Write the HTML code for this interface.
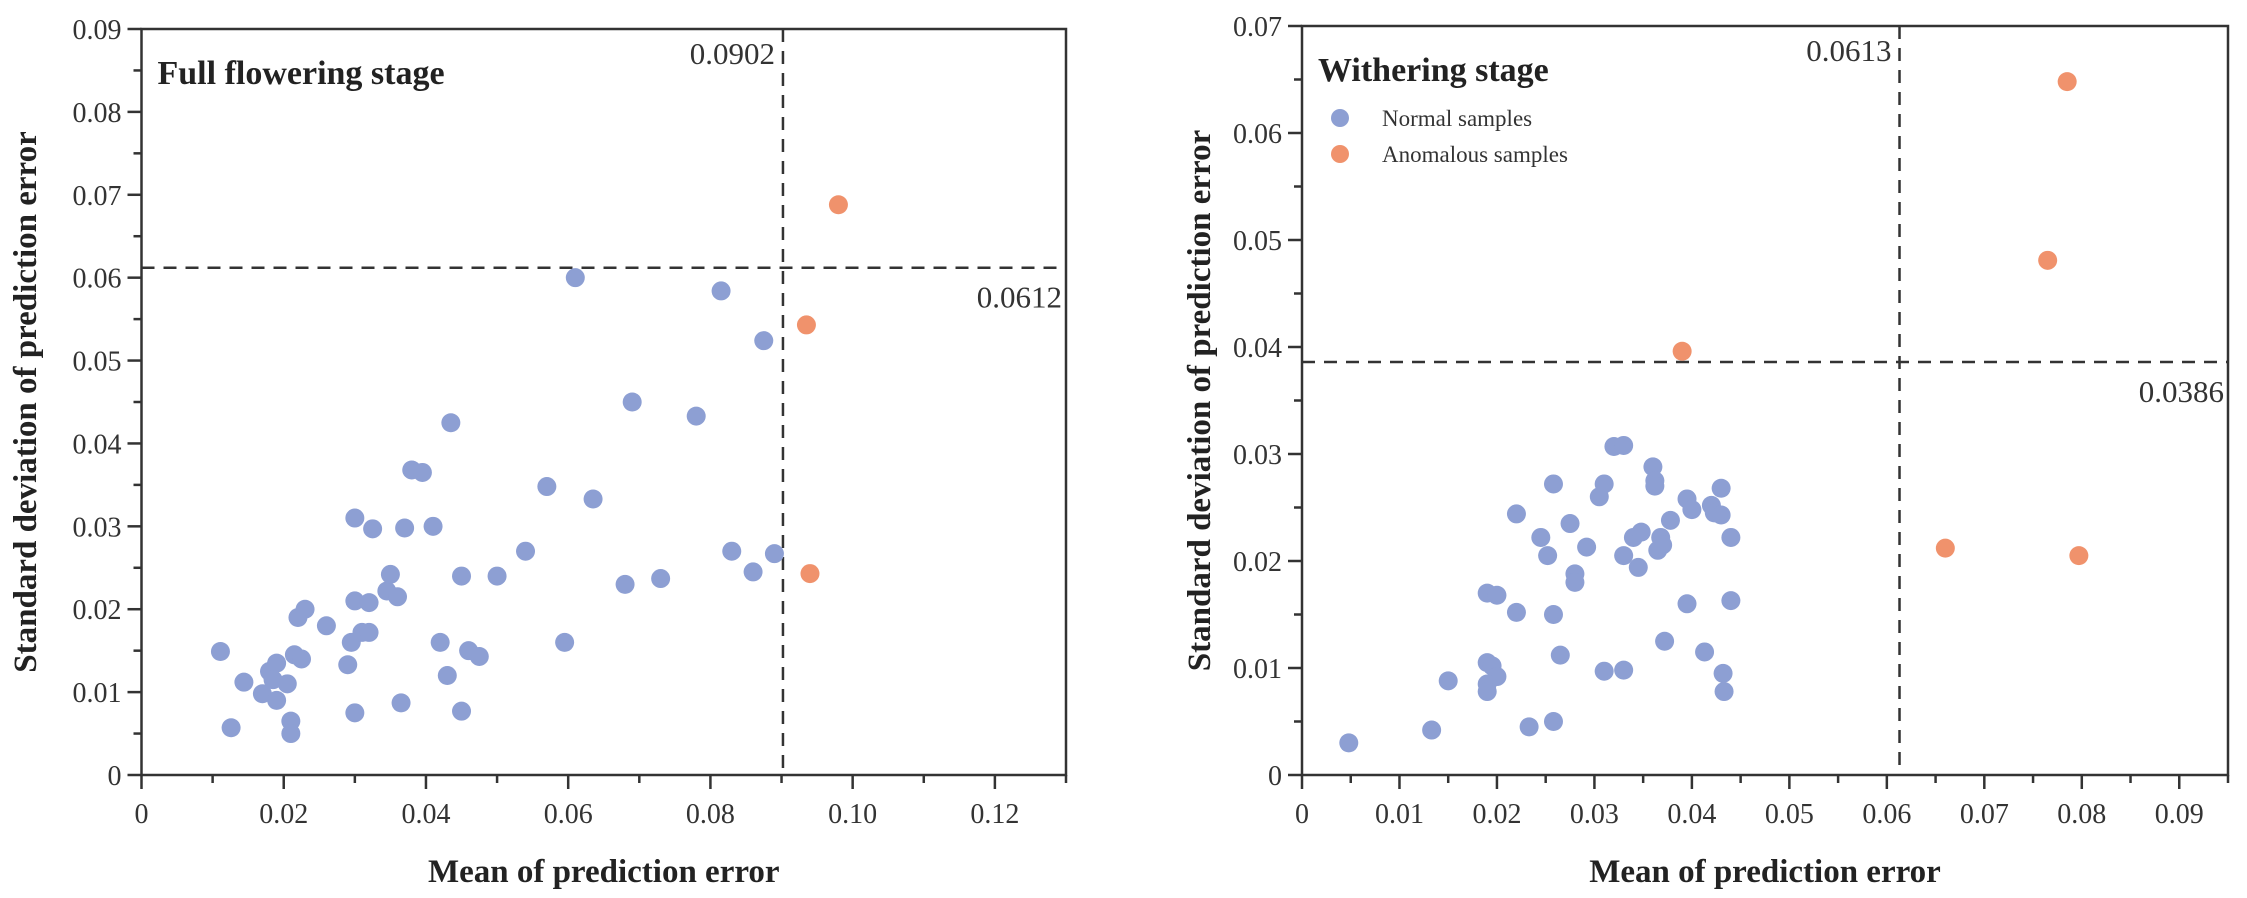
<!DOCTYPE html>
<html><head><meta charset="utf-8"><style>
html,body{margin:0;padding:0;background:#fff}
svg{display:block;font-family:"Liberation Serif",serif}
</style></head><body>
<svg id="chart" width="2247" height="898" viewBox="0 0 2247 898" xmlns="http://www.w3.org/2000/svg"></svg>
<script>
// ---- Left panel data (Full flowering stage)
const leftNormalX=[0.0111,0.0126,0.0144,0.017,0.018,0.019,0.0185,0.019,0.0205,0.021,0.021,0.0215,0.022,0.023,0.0225,0.026,0.029,0.0295,0.030,0.030,0.030,0.031,0.032,0.032,0.0325,0.0345,0.035,0.036,0.0365,0.037,0.038,0.0395,0.041,0.042,0.043,0.0435,0.045,0.045,0.046,0.0475,0.050,0.054,0.057,0.0595,0.061,0.0635,0.068,0.069,0.073,0.078,0.0815,0.083,0.086,0.0875,0.089];
const leftNormalY=[0.0149,0.0057,0.0112,0.0098,0.0125,0.0135,0.0115,0.009,0.011,0.0065,0.005,0.0145,0.019,0.020,0.014,0.018,0.0133,0.016,0.021,0.031,0.0075,0.0172,0.0208,0.0172,0.0297,0.0222,0.0242,0.0215,0.0087,0.0298,0.0368,0.0365,0.030,0.016,0.012,0.0425,0.024,0.0077,0.015,0.0143,0.024,0.027,0.0348,0.016,0.060,0.0333,0.023,0.045,0.0237,0.0433,0.0584,0.027,0.0245,0.0524,0.0267];
const leftAnomX=[0.098,0.0935,0.094];
const leftAnomY=[0.0688,0.0543,0.0243];
const leftThreshX=0.0902, leftThreshY=0.0612;
const leftXTicks=["0","0.02","0.04","0.06","0.08","0.10","0.12"];
const leftYTicks=["0","0.01","0.02","0.03","0.04","0.05","0.06","0.07","0.08","0.09"];
// ---- Right panel data (Withering stage)
const rightNormalX=[0.0048,0.0133,0.015,0.019,0.020,0.019,0.0195,0.020,0.019,0.019,0.022,0.022,0.0233,0.0245,0.0252,0.0258,0.0258,0.0258,0.0265,0.0275,0.028,0.028,0.0292,0.0305,0.031,0.031,0.032,0.033,0.033,0.033,0.034,0.0345,0.0348,0.036,0.0362,0.0362,0.0368,0.0365,0.037,0.0372,0.0378,0.0395,0.0395,0.040,0.0413,0.042,0.0423,0.043,0.043,0.0432,0.0433,0.044,0.044];
const rightNormalY=[0.003,0.0042,0.0088,0.017,0.0168,0.0105,0.0102,0.0092,0.0085,0.0078,0.0152,0.0244,0.0045,0.0222,0.0205,0.0272,0.015,0.005,0.0112,0.0235,0.0188,0.018,0.0213,0.026,0.0272,0.0097,0.0307,0.0308,0.0205,0.0098,0.0222,0.0194,0.0227,0.0288,0.0275,0.027,0.0222,0.021,0.0215,0.0125,0.0238,0.0258,0.016,0.0248,0.0115,0.0252,0.0245,0.0268,0.0243,0.0095,0.0078,0.0222,0.0163];
const rightAnomX=[0.039,0.0785,0.0765,0.066,0.0797];
const rightAnomY=[0.0396,0.0648,0.0481,0.0212,0.0205];
const rightThreshX=0.0613, rightThreshY=0.0386;
const rightXTicks=["0","0.01","0.02","0.03","0.04","0.05","0.06","0.07","0.08","0.09"];
const rightYTicks=["0","0.01","0.02","0.03","0.04","0.05","0.06","0.07"];

const NS="http://www.w3.org/2000/svg";
const svg=document.getElementById('chart');
function mk(tag,attrs,parent,text){const e=document.createElementNS(NS,tag);for(const k in attrs)e.setAttribute(k,attrs[k]);if(text!==undefined)e.textContent=text;(parent||svg).appendChild(e);return e;}
const BLUE="#8d9fd3", ORANGE="#f0926c";

function panel(cfg){
  const g=mk('g',{});
  
  
  const L=cfg.left,R=cfg.right,T=cfg.top,B=cfg.bottom;
  const sx=v=>L+(v/cfg.xmax)*(R-L);
  const sy=v=>B-(v/cfg.ymax)*(B-T);
  const fr=mk('rect',{x:L,y:T,width:R-L,height:B-T,fill:'none',stroke:'#333',"stroke-width":2.5},g);
  
  
  for(let i=0;i*cfg.xminor<=cfg.xmax+1e-9;i++){
    const v=i*cfg.xminor,x=sx(v);
    const isMaj=(i%cfg.xminorEvery===0);
    const t=mk('line',{x1:x,x2:x,y1:B,y2:B+(isMaj?14:8),stroke:'#333',"stroke-width":2.5},g);
    
    
  }
  cfg.xTicks.forEach((lab,i)=>{
    const v=parseFloat(lab);
    const t=mk('text',{x:sx(v),y:823,"font-size":28,"text-anchor":"middle",fill:'#333'},g,lab);
    
    
  });
  for(let i=0;i*cfg.yminor<=cfg.ymax+1e-9;i++){
    const y=sy(i*cfg.yminor),isMaj=(i%2===0);
    const t=mk('line',{x1:L,x2:L-(isMaj?14:8),y1:y,y2:y,stroke:'#333',"stroke-width":2.5},g);
    
    
  }
  cfg.yTicks.forEach(lab=>{
    const v=parseFloat(lab);
    const t=mk('text',{x:L-20,y:sy(v)+10,"font-size":28,"text-anchor":"end",fill:'#333'},g,lab);
    
    
  });
  const xt=mk('text',{x:(L+R)/2,y:882,"font-size":33,"font-weight":"bold","text-anchor":"middle",fill:'#222'},g,"Mean of prediction error");
  
  
  const yt=mk('text',{x:0,y:0,"font-size":33,"font-weight":"bold","text-anchor":"middle",fill:'#222',transform:`translate(${cfg.ytitleX},${(T+B)/2}) rotate(-90)`},g,"Standard deviation of prediction error");
  
  
  const vx=sx(cfg.tx), hy=sy(cfg.ty);
  const vl=mk('line',{x1:vx,x2:vx,y1:T,y2:B,stroke:'#333',"stroke-width":2.5,"stroke-dasharray":"13 9"},g);
  
  
  const hl=mk('line',{x1:L,x2:R,y1:hy,y2:hy,stroke:'#333',"stroke-width":2.5,"stroke-dasharray":"13 9"},g);
  
  
  const vlab=mk('text',{x:vx-8,y:T+35,"font-size":31,"text-anchor":"end",fill:'#333'},g,cfg.tx.toFixed(4));
  
  
  const hlab=mk('text',{x:R-4,y:hy+40,"font-size":31,"text-anchor":"end",fill:'#333'},g,cfg.ty.toFixed(4));
  
  
  const ti=mk('text',{x:L+16,y:T+55,"font-size":34,"font-weight":"bold",fill:'#222'},g,cfg.title);
  
  
  cfg.nx.forEach((v,i)=>{
    const c=mk('circle',{cx:sx(v),cy:sy(cfg.ny[i]),r:9.5,fill:BLUE},g);
    
    
  });
  cfg.ax.forEach((v,i)=>{
    const c=mk('circle',{cx:sx(v),cy:sy(cfg.ay[i]),r:9.5,fill:ORANGE},g);
    
    
  });
  return g;
}

panel({name:'full-flowering-panel',left:141.5,right:1066,top:29,bottom:775,xmax:0.13,ymax:0.09,xminor:0.01,xminorEvery:2,yminor:0.005,
  xTicks:leftXTicks,yTicks:leftYTicks,nx:leftNormalX,ny:leftNormalY,ax:leftAnomX,ay:leftAnomY,tx:leftThreshX,ty:leftThreshY,
  title:'Full flowering stage',ytitleX:36});
panel({name:'withering-panel',left:1302,right:2228,top:26,bottom:775,xmax:0.095,ymax:0.07,xminor:0.005,xminorEvery:2,yminor:0.005,
  xTicks:rightXTicks,yTicks:rightYTicks,nx:rightNormalX,ny:rightNormalY,ax:rightAnomX,ay:rightAnomY,tx:rightThreshX,ty:rightThreshY,
  title:'Withering stage',ytitleX:1210});

const lg=mk('g',{});


const l1=mk('circle',{cx:1340,cy:118,r:9,fill:BLUE},lg);


const t1=mk('text',{x:1382,y:126,"font-size":23,fill:'#333'},lg,'Normal samples');


const l2=mk('circle',{cx:1340,cy:154,r:9,fill:ORANGE},lg);


const t2=mk('text',{x:1382,y:162,"font-size":23,fill:'#333'},lg,'Anomalous samples');


</script>
</body></html>
